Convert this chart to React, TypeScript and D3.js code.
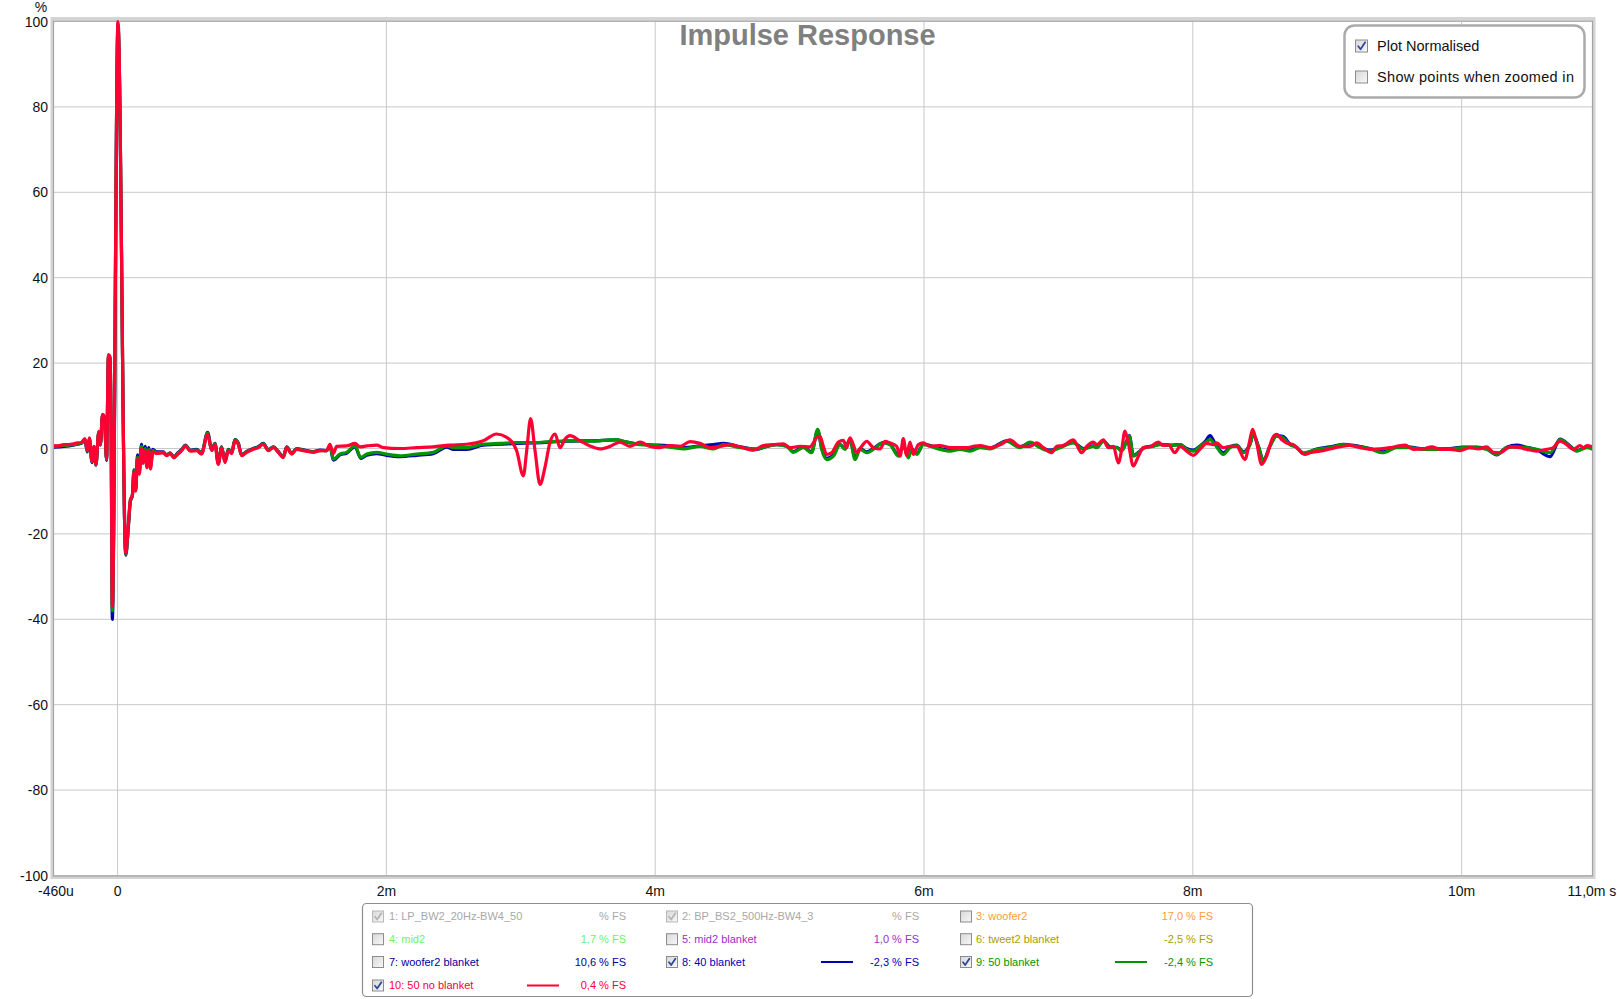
import React from "react";
import * as d3 from "d3";

// ---------- data ----------
const yTicks = [-100, -80, -60, -40, -20, 0, 20, 40, 60, 80, 100];
const xGridTicks = [0, 2, 4, 6, 8, 10];
const xMin = -0.473;
const xMax = 10.97;
const xTickValues = [xMin, 0, 2, 4, 6, 8, 10, xMax];
const xTickLabels = ["-460u", "0", "2m", "4m", "6m", "8m", "10m", "11,0m s"];

// t in ms, value in %
const redSeries: [number, number][] = [
  [-0.473, 0.6], [-0.43, 0.7], [-0.4, 0.9], [-0.36, 0.9], [-0.33, 1.1], [-0.3, 1.3], [-0.27, 1.4],
  [-0.243, 2.3], [-0.225, -0.5], [-0.21, 2.5], [-0.19, -3], [-0.176, 0.5], [-0.161, -3.7], [-0.14, 4],
  [-0.128, 1], [-0.112, 8], [-0.098, 7.5], [-0.082, -2.5], [-0.068, 22], [-0.056, 21.5], [-0.048, 5],
  [-0.039, -37], [0.003, 100], [0.061, -24.5], [0.08, -18], [0.095, -12], [0.11, -11], [0.122, -5.5],
  [0.135, -10], [0.148, -2.5], [0.162, -6], [0.178, 0], [0.19, -3.5], [0.205, -0.5], [0.218, -4.5],
  [0.232, -0.5], [0.245, -4.8], [0.262, -0.8], [0.29, -1.2], [0.34, -1], [0.365, -1.7], [0.39, -1.2],
  [0.42, -2.2], [0.44, -1.6], [0.477, -0.5], [0.505, 0.6], [0.54, -0.6], [0.588, -0.5], [0.625, -1.3],
  [0.67, 3.4], [0.7, -0.5], [0.725, 1.0], [0.749, -3.7], [0.774, 0.2], [0.799, -3.3], [0.824, -0.5],
  [0.849, -1.2], [0.873, 1.8], [0.898, 1.0], [0.923, -1.7], [0.96, -0.9], [1.01, -0.2], [1.047, 0.2],
  [1.084, 1.0], [1.122, -0.5], [1.159, 0.2], [1.196, -0.9], [1.233, -2.1], [1.258, 0.2], [1.295, -1.3],
  [1.332, -0.2], [1.382, -0.5], [1.456, -0.9], [1.506, -0.5], [1.556, -0.5], [1.58, 1.0], [1.605, -1.2],
  [1.63, 0.5], [1.704, 0.6], [1.766, 1.2], [1.804, 0.4], [1.853, 0.6], [1.928, 0.8], [1.977, 0.2],
  [2.101, 0], [2.225, 0.2], [2.349, 0.4], [2.473, 0.8], [2.597, 1.0], [2.721, 1.8], [2.82, 3.4],
  [2.895, 2.6], [2.969, -0.5], [3.019, -6.4], [3.044, -0.5], [3.073, 7.0], [3.106, -0.5], [3.143, -8.4],
  [3.18, -4.4], [3.217, 1.4], [3.255, 3.4], [3.292, 0.2], [3.329, 2.2], [3.366, 3.0], [3.441, 1.8],
  [3.515, 0.6], [3.589, -0.1], [3.664, 0.5], [3.738, 1.5], [3.813, 0.5], [3.887, 1.5], [3.961, 0.5],
  [4.036, 0.2], [4.11, 0.7], [4.185, 0.5], [4.259, 1.6], [4.333, 1.2], [4.408, 0.2], [4.482, 0.5],
  [4.557, 0.9], [4.631, 0.4], [4.73, -0.4], [4.805, 0.7], [4.879, 0.9], [4.953, 1.1], [5.003, 0.2],
  [5.078, 0.5], [5.152, 0.4], [5.201, 2.5], [5.226, 2.9], [5.251, 0.5], [5.276, -1.4], [5.313, -1.0],
  [5.363, 1.5], [5.4, 1.9], [5.425, 0.2], [5.449, 2.5], [5.474, 0.9], [5.499, -1.0], [5.536, 0.5],
  [5.574, 1.7], [5.623, 0.2], [5.673, -0.1], [5.71, 1.7], [5.747, 1.3], [5.797, 0.5], [5.822, -1.8],
  [5.846, 2.3], [5.871, -1.6], [5.896, 1.5], [5.921, -1.4], [5.958, 0.9], [5.995, 1.3], [6.045, 0.5],
  [6.119, 0.7], [6.194, 0.2], [6.268, 0.2], [6.318, 0.2], [6.367, 0.5], [6.417, 0.7], [6.491, 0.2],
  [6.566, 0.9], [6.64, 2.0], [6.714, 0.5], [6.789, 0.5], [6.838, 1.3], [6.888, 0.2], [6.95, -1.0],
  [6.987, 0.5], [7.037, 0.7], [7.111, 2.0], [7.173, -1.0], [7.21, 0.5], [7.26, 1.5], [7.285, 0.9],
  [7.334, 2.0], [7.371, 0.2], [7.409, 0.5], [7.446, -3.4], [7.471, -0.2], [7.495, 4.1], [7.52, 1.3],
  [7.557, -4.1], [7.595, -1.8], [7.632, 0.2], [7.681, 0.4], [7.743, 1.5], [7.781, 0.7], [7.818, 0.9],
  [7.867, -1.0], [7.905, 0.5], [7.954, -0.6], [8.004, -1.6], [8.053, -0.2], [8.103, 1.2], [8.153, 0.9],
  [8.177, 1.3], [8.227, 0.2], [8.277, 0.5], [8.326, 0.5], [8.388, -2.6], [8.42, 1.3], [8.445, 4.5],
  [8.475, 1.3], [8.512, -3.7], [8.549, -1.8], [8.594, 2.5], [8.624, 3.3], [8.661, 2.1], [8.698, 1.3],
  [8.748, 0.9], [8.785, -0.2], [8.835, -1.4], [8.872, -1.0], [8.946, -0.6], [9.021, -0.1], [9.095, 0.4],
  [9.169, 0.7], [9.244, 0.2], [9.318, -0.2], [9.393, -0.1], [9.467, 0.2], [9.517, 0.5], [9.579, 0.8],
  [9.641, -0.2], [9.715, -0.1], [9.777, 0.4], [9.839, -0.2], [9.914, -0.2], [9.988, -0.5], [10.062, 0.2],
  [10.124, -0.1], [10.186, 0.4], [10.236, -0.9], [10.286, -1.0], [10.36, 0.4], [10.434, 0.2], [10.484, -0.2],
  [10.558, -0.6], [10.633, -0.2], [10.682, 0.2], [10.732, 1.7], [10.782, 0.9], [10.831, -0.2], [10.881, 0.7],
  [10.906, 0.2], [10.931, 0.7], [10.97, 0.4],
];

const blueSeries: [number, number][] = [
  [-0.473, 0.3], [-0.4, 0.5], [-0.33, 0.8], [-0.27, 1.2], [-0.243, 2.0], [-0.225, -0.8], [-0.21, 2.2],
  [-0.19, -3.3], [-0.176, 0.3], [-0.161, -3.9], [-0.14, 3.8], [-0.128, 0.8], [-0.112, 7.8], [-0.098, 7.2],
  [-0.082, -2.8], [-0.068, 21.5], [-0.056, 21], [-0.048, 4], [-0.039, -40], [0.003, 99], [0.061, -25],
  [0.08, -18.5], [0.095, -12.5], [0.11, -11], [0.122, -5], [0.135, -9.5], [0.148, -1.5], [0.162, -5],
  [0.178, 1.0], [0.19, -2.5], [0.205, 0.5], [0.218, -3.5], [0.232, 0.2], [0.245, -3.8], [0.262, -0.2],
  [0.29, -0.8], [0.34, -0.8], [0.365, -1.5], [0.39, -1.0], [0.42, -2.0], [0.44, -1.3], [0.477, -0.2],
  [0.505, 0.8], [0.54, -0.4], [0.588, -0.2], [0.625, -1.0], [0.67, 3.8], [0.7, -0.2], [0.725, 1.2],
  [0.749, -3.4], [0.774, 0.4], [0.799, -3.0], [0.824, -0.2], [0.849, -1.0], [0.873, 2.1], [0.898, 1.3],
  [0.923, -1.5], [0.96, -0.7], [1.01, 0], [1.047, 0.4], [1.084, 1.2], [1.122, -0.3], [1.159, 0.4],
  [1.196, -0.7], [1.233, -1.9], [1.258, 0.4], [1.295, -1.1], [1.332, 0], [1.382, -0.3], [1.456, -0.7],
  [1.506, -0.4], [1.556, -0.5], [1.58, 0.6], [1.605, -2.7], [1.655, -1.5], [1.704, -1.1], [1.766, 0.4],
  [1.81, -2.3], [1.853, -1.6], [1.928, -1.2], [2.0, -1.6], [2.101, -1.9], [2.225, -1.6], [2.349, -1.2],
  [2.45, 0.3], [2.5, -0.2], [2.597, -0.2], [2.721, 0.8], [2.85, 1.0], [2.969, 1.2], [3.1, 1.3],
  [3.217, 1.5], [3.33, 1.7], [3.441, 1.8], [3.515, 1.8], [3.713, 2.0], [3.763, 1.7], [3.887, 1.0],
  [4.011, 0.8], [4.135, 0.5], [4.21, 0.2], [4.333, 0.6], [4.433, 0.9], [4.507, 1.2], [4.631, 0.4],
  [4.755, -0.2], [4.829, 0.5], [4.904, 0.9], [4.978, 0.6], [5.028, -0.7], [5.102, 0.3], [5.164, -0.8],
  [5.209, 4.2], [5.239, 0], [5.276, -2.3], [5.326, -1.5], [5.375, 1.0], [5.412, 0], [5.449, 2.2],
  [5.487, -2.2], [5.524, 0], [5.574, -0.8], [5.623, 0], [5.697, 1.4], [5.747, 1.0], [5.809, -1.5],
  [5.846, 0.6], [5.884, -1.9], [5.908, 0], [5.946, -1.2], [5.995, 1.0], [6.119, 0], [6.194, -0.4],
  [6.268, 0], [6.343, -0.4], [6.417, 0.4], [6.491, 0.1], [6.615, 1.8], [6.714, 0.4], [6.789, 1.3],
  [6.863, 0.4], [6.938, -0.4], [7.012, 0.4], [7.111, 1.4], [7.186, 0], [7.26, 0.6], [7.285, 0.3],
  [7.334, 1.8], [7.384, 0.4], [7.433, 0.3], [7.471, -0.4], [7.508, 1.8], [7.528, 3.0], [7.557, -1.6],
  [7.595, -0.9], [7.644, 0.3], [7.706, 0.6], [7.756, 1.0], [7.83, 0.8], [7.905, 0.9], [7.954, 0],
  [8.004, -0.4], [8.053, 0.6], [8.091, 1.6], [8.128, 3.0], [8.165, 1.2], [8.227, -1.0], [8.277, 0.4],
  [8.326, 0.8], [8.376, -0.8], [8.425, 1.0], [8.45, 3.2], [8.487, 0.6], [8.525, -2.7], [8.574, 0.6],
  [8.624, 3.0], [8.673, 2.8], [8.723, 1.0], [8.773, 0.3], [8.822, -1.2], [8.922, -0.1], [9.021, 0.4],
  [9.12, 1.0], [9.219, 0.6], [9.318, 0], [9.417, -0.8], [9.517, 0.3], [9.616, 0.3], [9.715, -0.1],
  [9.815, -0.1], [9.914, 0], [10.013, 0.3], [10.112, 0.3], [10.186, -0.1], [10.261, -1.5], [10.335, 0.3],
  [10.41, 0.8], [10.484, 0.3], [10.558, -0.3], [10.658, -1.9], [10.732, 2.2], [10.807, 0.6], [10.856, -0.5],
  [10.931, 0.3], [10.97, 0],
];

const greenSeries: [number, number][] = [
  [-0.473, 0.5], [-0.4, 0.7], [-0.33, 0.9], [-0.27, 1.3], [-0.243, 2.1], [-0.225, -0.6], [-0.21, 2.3],
  [-0.19, -3.1], [-0.176, 0.4], [-0.161, -3.8], [-0.14, 3.9], [-0.128, 0.9], [-0.112, 7.9], [-0.098, 7.3],
  [-0.082, -2.6], [-0.068, 21.8], [-0.056, 21.2], [-0.048, 4.5], [-0.039, -38], [0.003, 99.5], [0.061, -24.8],
  [0.08, -18.2], [0.095, -12.2], [0.11, -11], [0.122, -5.2], [0.135, -9.8], [0.148, -2], [0.162, -5.5],
  [0.178, 0.5], [0.19, -3], [0.205, 0], [0.218, -4], [0.232, -0.2], [0.245, -4.2], [0.262, -0.5],
  [0.29, -1], [0.34, -0.9], [0.365, -1.6], [0.39, -1.1], [0.42, -2.1], [0.44, -1.4], [0.477, -0.3],
  [0.505, 0.7], [0.54, -0.5], [0.588, -0.3], [0.625, -1.1], [0.67, 3.6], [0.7, -0.3], [0.725, 1.1],
  [0.749, -3.5], [0.774, 0.3], [0.799, -3.1], [0.824, -0.3], [0.849, -1.1], [0.873, 2.0], [0.898, 1.2],
  [0.923, -1.6], [0.96, -0.8], [1.01, -0.1], [1.047, 0.3], [1.084, 1.1], [1.122, -0.4], [1.159, 0.3],
  [1.196, -0.8], [1.233, -2.0], [1.258, 0.3], [1.295, -1.2], [1.332, -0.1], [1.382, -0.4], [1.456, -0.8],
  [1.506, -0.5], [1.556, -0.5], [1.58, 0.7], [1.605, -2.5], [1.655, -1.3], [1.704, -0.9], [1.766, 0.6],
  [1.81, -2.1], [1.853, -1.3], [1.928, -0.9], [2.0, -1.3], [2.101, -1.7], [2.225, -1.3], [2.349, -0.9],
  [2.45, 0.6], [2.5, 0.2], [2.597, 0.2], [2.721, 1.0], [2.85, 1.2], [2.969, 1.4], [3.1, 1.4],
  [3.217, 1.6], [3.33, 1.8], [3.441, 1.8], [3.515, 1.7], [3.713, 2.1], [3.763, 1.7], [3.887, 0.9],
  [4.011, 0.7], [4.135, 0.2], [4.21, -0.1], [4.333, 0.5], [4.433, -0.1], [4.507, 0.9], [4.631, 0.2],
  [4.755, -0.1], [4.829, 0.5], [4.904, 0.9], [4.978, 0.5], [5.028, -0.9], [5.102, 0.2], [5.164, -1.0],
  [5.209, 4.5], [5.239, -0.2], [5.276, -2.6], [5.326, -1.8], [5.375, 0.9], [5.412, -0.2], [5.449, 2.1],
  [5.487, -2.6], [5.524, -0.2], [5.574, -1.0], [5.623, -0.2], [5.697, 1.3], [5.747, 0.9], [5.809, -1.8],
  [5.846, 0.5], [5.884, -2.2], [5.908, -0.2], [5.946, -1.4], [5.995, 0.9], [6.119, -0.2], [6.194, -0.6],
  [6.268, -0.2], [6.343, -0.6], [6.417, 0.2], [6.491, -0.1], [6.615, 1.7], [6.714, 0.2], [6.789, 1.5],
  [6.863, 0.2], [6.938, -0.6], [7.012, 0.2], [7.111, 1.3], [7.186, -0.2], [7.26, 0.5], [7.285, 0.2],
  [7.334, 1.7], [7.384, 0.2], [7.433, 0.2], [7.471, -0.6], [7.508, 1.7], [7.528, 2.9], [7.557, -1.8],
  [7.595, -1.0], [7.644, 0.2], [7.706, 0.5], [7.756, 0.9], [7.83, 0.7], [7.905, 0.9], [7.954, -0.2],
  [8.004, -0.6], [8.053, 0.5], [8.091, 1.3], [8.128, 2.1], [8.165, 0.9], [8.227, -1.4], [8.277, 0.2],
  [8.326, 0.7], [8.376, -1.0], [8.425, 0.9], [8.45, 3.3], [8.487, 0.5], [8.525, -2.9], [8.574, 0.5],
  [8.624, 2.9], [8.673, 2.5], [8.723, 0.9], [8.773, 0.2], [8.822, -1.0], [8.922, -0.2], [9.021, 0.2],
  [9.12, 0.9], [9.219, 0.5], [9.318, -0.1], [9.417, -1.0], [9.517, 0.2], [9.616, 0.2], [9.715, -0.2],
  [9.815, -0.2], [9.914, -0.1], [10.013, 0.2], [10.112, 0.2], [10.186, -0.2], [10.261, -1.4], [10.335, 0.2],
  [10.41, 0.4], [10.484, 0.2], [10.558, -0.2], [10.658, -1.0], [10.732, 2.1], [10.807, 0.5], [10.856, -0.6],
  [10.931, 0.2], [10.97, -0.1],
];

const legendNames = [
  "1: LP_BW2_20Hz-BW4_50", "2: BP_BS2_500Hz-BW4_3", "3: woofer2",
  "4: mid2", "5: mid2 blanket", "6: tweet2 blanket",
  "7: woofer2 blanket", "8: 40 blanket", "9: 50 blanket",
  "10: 50 no blanket",
];
const legendValues = [
  "% FS", "% FS", "17,0 % FS",
  "1,7 % FS", "1,0 % FS", "-2,5 % FS",
  "10,6 % FS", "-2,3 % FS", "-2,4 % FS",
  "0,4 % FS",
];
const legendColors = [
  "#a8a8a8", "#a8a8a8", "#ff9a40",
  "#70f070", "#9a30cc", "#a89e00",
  "#000099", "#0000c0", "#009600",
  "#ff0033",
];
const legendLineColors = ["", "", "", "", "", "", "", "#0000b4", "#009600", "#ff0033"];
const legendChecked = [true, true, false, false, false, false, false, true, true, true];
const legendDisabled = [true, true, false, false, false, false, false, false, false, false];

// ---------- layout ----------
const W = 1617;
const H = 999;
const plot = { left: 54, right: 1592, top: 21.5, bottom: 875.5 };
const FONT = "Arial, 'Liberation Sans', sans-serif";

function CheckBox({ x, y, size, checked, disabled }: { x: number; y: number; size: number; checked: boolean; disabled?: boolean }) {
  const s = size;
  return (
    <g transform={`translate(${x},${y})`}>
      <rect x={0.5} y={0.5} width={s - 1} height={s - 1} fill="url(#cbgrad)" stroke={disabled ? "#b8b8b8" : "#8c8c8c"} strokeWidth={1} />
      {checked && (
        <path
          d={`M${s * 0.25},${s * 0.52} L${s * 0.43},${s * 0.75} L${s * 0.78},${s * 0.22}`}
          fill="none"
          stroke={disabled ? "#b4b4b4" : "#2b4a9c"}
          strokeWidth={1.8}
          strokeLinecap="round"
          strokeLinejoin="round"
        />
      )}
    </g>
  );
}

export default function App() {
  const x = d3.scaleLinear().domain([xMin, xMax]).range([plot.left, plot.right]);
  const y = d3.scaleLinear().domain([-100, 100]).range([plot.bottom, plot.top]);
  const line = d3
    .line<[number, number]>()
    .x((d) => x(d[0]))
    .y((d) => y(d[1]))
    .curve(d3.curveMonotoneX);

  const rowY = [916.5, 939.2, 962, 985.5];
  const colCheck = [372, 666, 960];
  const colText = [389, 682, 976];
  const colValEnd = [626, 919, 1213];
  const colLine = [
    [527, 559],
    [821, 853],
    [1115, 1147],
  ];

  return (
    <svg width={W} height={H} style={{ position: "absolute", left: 0, top: 0, background: "#fff" }} fontFamily={FONT}>
      <defs>
        <clipPath id="plotclip">
          <rect x={plot.left} y={plot.top - 2} width={plot.right - plot.left} height={plot.bottom - plot.top + 4} />
        </clipPath>
        <linearGradient id="cbgrad" x1="0" y1="0" x2="1" y2="1">
          <stop offset="0" stopColor="#d8d8d8" />
          <stop offset="1" stopColor="#f8f8f8" />
        </linearGradient>
      </defs>
      <rect x={0} y={0} width={W} height={H} fill="#fff" />

      {/* grid */}
      {yTicks.map((t) => (
        <line key={"gy" + t} x1={plot.left} x2={plot.right} y1={y(t)} y2={y(t)} stroke="#c8c8c8" strokeWidth={1} />
      ))}
      {xGridTicks.map((t) => (
        <line key={"gx" + t} x1={x(t)} x2={x(t)} y1={plot.top} y2={plot.bottom} stroke="#c8c8c8" strokeWidth={1} />
      ))}

      {/* frame */}
      <rect x={plot.left - 2} y={plot.top - 3} width={plot.right - plot.left + 4} height={plot.bottom - plot.top + 5} fill="none" stroke="#d4d4d4" strokeWidth={3} />
      <rect x={plot.left - 0.5} y={plot.top - 0.5} width={plot.right - plot.left + 1} height={plot.bottom - plot.top + 1} fill="none" stroke="#a4a4a4" strokeWidth={1.2} />

      {/* title */}
      <text x={807.5} y={45} textAnchor="middle" fontSize={29} fontWeight="bold" fill="#808080">
        Impulse Response
      </text>

      {/* series */}
      <g clipPath="url(#plotclip)" fill="none" strokeLinejoin="round" strokeLinecap="round">
        <path d={line(blueSeries) || ""} stroke="#0000b4" strokeWidth={3.2} />
        <path d={line(greenSeries) || ""} stroke="#009600" strokeWidth={3.2} />
        <path d={line(redSeries) || ""} stroke="#ff0033" strokeWidth={3.2} />
      </g>

      {/* y axis labels */}
      {yTicks.map((t) => (
        <text key={"ly" + t} x={48} y={y(t)} dy="0.36em" textAnchor="end" fontSize={14} fill="#111">
          {t}
        </text>
      ))}
      <text x={41} y={12} textAnchor="middle" fontSize={14} fill="#111">%</text>

      {/* x axis labels */}
      {xTickValues.map((t, i) => (
        <text key={"lx" + i} x={x(t) + (i === 0 ? 2 : 0)} y={896} textAnchor="middle" fontSize={14} fill="#111">
          {xTickLabels[i]}
        </text>
      ))}

      {/* top-right options box */}
      <rect x={1344.5} y={25.5} width={240} height={72} rx={10} ry={10} fill="#fff" stroke="#ababab" strokeWidth={2.5} />
      <CheckBox x={1355} y={39.5} size={13} checked={true} />
      <text x={1377} y={51} fontSize={14.5} fill="#111">Plot Normalised</text>
      <CheckBox x={1355} y={70.5} size={13} checked={false} />
      <text x={1377} y={82} fontSize={14.5} fill="#111" textLength={197} lengthAdjust="spacing">Show points when zoomed in</text>

      {/* bottom legend */}
      <rect x={362.5} y={903.5} width={890} height={93} rx={4} ry={4} fill="#fff" stroke="#8e8e8e" strokeWidth={1.2} />
      {legendNames.map((name, i) => {
        const row = Math.floor(i / 3);
        const col = i % 3;
        const cy = rowY[row];
        return (
          <g key={"lg" + i}>
            <CheckBox x={colCheck[col]} y={cy - 6} size={12} checked={legendChecked[i]} disabled={legendDisabled[i]} />
            <text x={colText[col]} y={cy} dy="0.35em" fontSize={11} fill={legendColors[i]}>
              {name}
            </text>
            {legendLineColors[i] && (
              <line x1={colLine[col][0]} x2={colLine[col][1]} y1={cy} y2={cy} stroke={legendLineColors[i]} strokeWidth={2} />
            )}
            <text x={colValEnd[col]} y={cy} dy="0.35em" textAnchor="end" fontSize={11} fill={legendColors[i]}>
              {legendValues[i]}
            </text>
          </g>
        );
      })}
    </svg>
  );
}
